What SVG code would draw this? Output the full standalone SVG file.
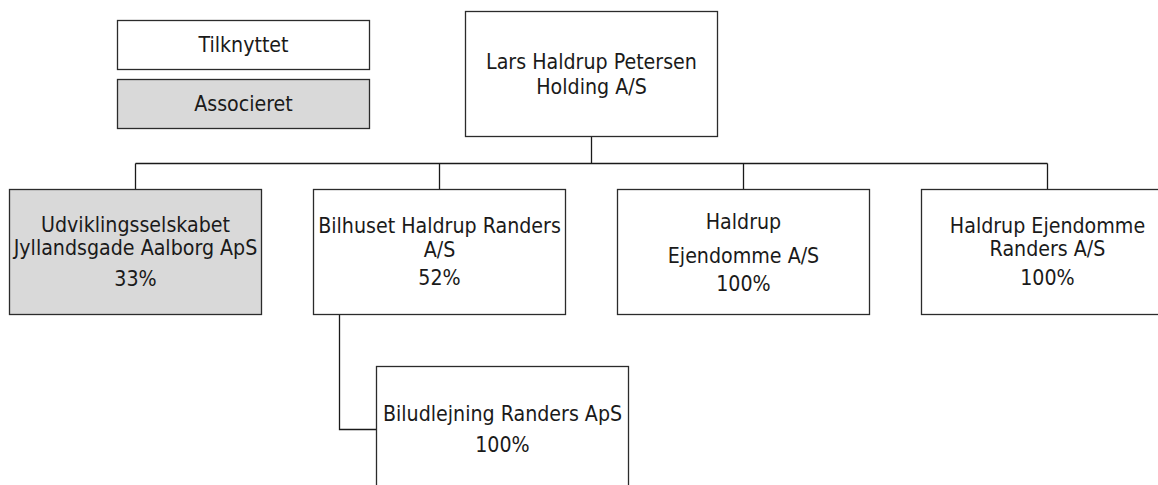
<svg xmlns="http://www.w3.org/2000/svg" width="1158" height="485" viewBox="0 0 1158 485">
<style>
.box{fill:#ffffff;stroke:#2b2b2b;stroke-width:1.3}
.assoc{fill:#d9d9d9;stroke:#2b2b2b;stroke-width:1.3}
.conn{fill:none;stroke:#1a1a1a;stroke-width:1.3}
text{font-family:"DejaVu Sans Condensed","DejaVu Sans",sans-serif;font-stretch:condensed;font-size:21.2px;fill:#1a1a1a;text-anchor:middle}
</style>
<rect width="1158" height="485" fill="#ffffff"/>
<g id="connectors">
<path class="conn" d="M591.5 136.5 V163.5 M135.5 163.5 H1047.5 M135.5 163.5 V189.5 M439.5 163.5 V189.5 M743.5 163.5 V189.5 M1047.5 163.5 V189.5"/>
<path class="conn" d="M339.5 314.5 V429.5 H376.5"/>
</g>
<g id="legend-tilknyttet">
<rect class="box" x="117.5" y="20.5" width="252" height="49"/>
<text x="243.5" y="52">Tilknyttet</text>
</g>
<g id="legend-associeret">
<rect class="assoc" x="117.5" y="79.5" width="252" height="49"/>
<text x="243.5" y="111">Associeret</text>
</g>
<g id="node-holding">
<rect class="box" x="465.5" y="11.5" width="252" height="125"/>
<text x="591.5" y="69">Lars Haldrup Petersen</text>
<text x="591.5" y="93.5">Holding A/S</text>
</g>
<g id="node-udvikling">
<rect class="assoc" x="9.5" y="189.5" width="252" height="125"/>
<text x="135.5" y="231.5">Udviklingsselskabet</text>
<text x="135.5" y="254.5">Jyllandsgade Aalborg ApS</text>
<text x="135.5" y="285.5">33%</text>
</g>
<g id="node-bilhuset">
<rect class="box" x="313.5" y="189.5" width="252" height="125"/>
<text x="439.5" y="232.5">Bilhuset Haldrup Randers</text>
<text x="439.5" y="256.5">A/S</text>
<text x="439.5" y="285">52%</text>
</g>
<g id="node-haldrup-ejendomme">
<rect class="box" x="617.5" y="189.5" width="252" height="125"/>
<text x="743.5" y="228.5">Haldrup</text>
<text x="743.5" y="262.5">Ejendomme A/S</text>
<text x="743.5" y="291">100%</text>
</g>
<g id="node-haldrup-randers">
<rect class="box" x="921.5" y="189.5" width="252" height="125"/>
<text x="1047.5" y="233">Haldrup Ejendomme</text>
<text x="1047.5" y="255.5">Randers A/S</text>
<text x="1047.5" y="284.5">100%</text>
</g>
<g id="node-biludlejning">
<rect class="box" x="376.5" y="366.5" width="252" height="125"/>
<text x="502.5" y="420.5">Biludlejning Randers ApS</text>
<text x="502.5" y="451.5">100%</text>
</g>
</svg>
